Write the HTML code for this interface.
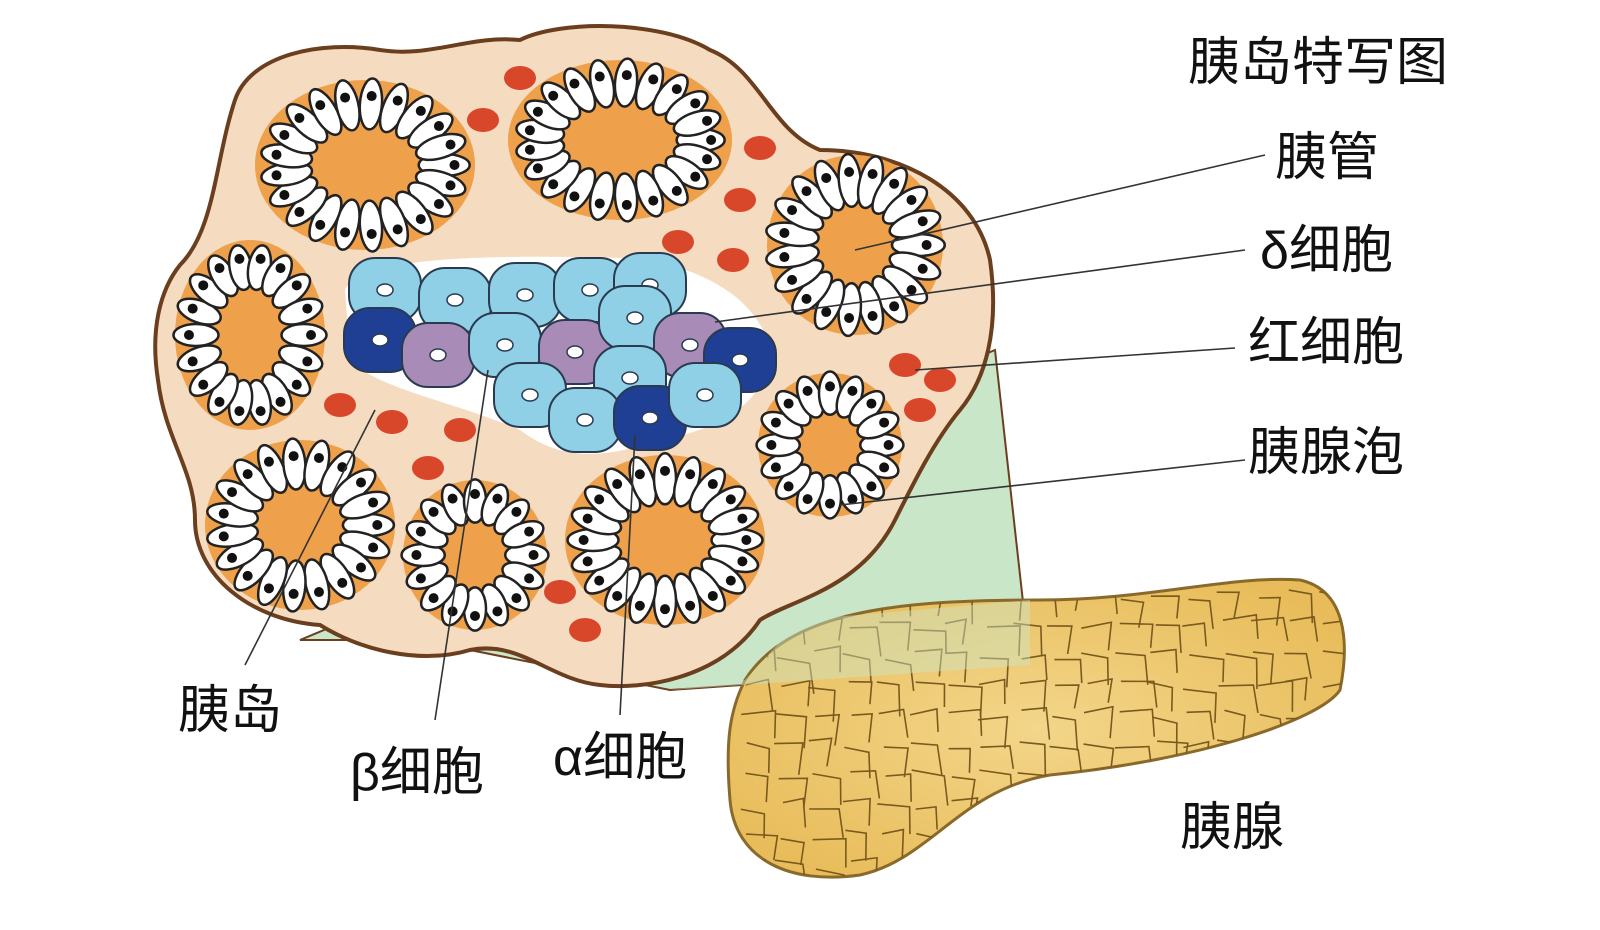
<!DOCTYPE html>
<html><head><meta charset="utf-8"><style>
html,body{margin:0;padding:0;background:#fff;width:1600px;height:930px;overflow:hidden}
text{font-family:"Liberation Sans","Noto Sans CJK SC",sans-serif;fill:#111}
</style></head><body>
<svg id="s" width="1600" height="930" viewBox="0 0 1600 930" xmlns="http://www.w3.org/2000/svg">
<defs>
<radialGradient id="pg" cx="0.5" cy="0.5" r="0.6"><stop offset="0" stop-color="#f3d68a"/><stop offset="1" stop-color="#e8bc5a"/></radialGradient>
</defs>
<polygon points="300,640 995,350 1030,665 670,690 420,640" fill="#c9e6c9" stroke="#6b3e1e" stroke-width="2"/>
<path id="panc" d="M745,680 C790,610 900,600 1040,600 C1150,600 1230,575 1300,580 C1345,590 1350,640 1340,690 C1320,720 1200,760 1050,775 C960,790 930,860 860,875 C790,885 735,860 730,800 C725,740 730,710 745,680Z" fill="url(#pg)" stroke="#8a6a2a" stroke-width="3"/>
<g id="cracks" stroke="#7a5a1e" stroke-width="1.6" fill="none"></g>
<polygon points="745,680 800,620 1030,600 1030,665 670,690" fill="#c9e6c9" opacity="0.45"/>
<path d="M235,100 C250,55 320,40 380,50 C430,58 470,35 520,40 C560,20 660,20 710,50 C760,70 770,130 820,150 C900,150 975,190 990,260 C1000,330 985,380 960,410 C935,440 915,480 895,520 C860,590 790,600 760,620 C720,680 640,690 600,685 C550,680 520,640 470,650 C420,665 360,650 320,625 C250,620 195,575 195,520 C195,470 165,440 158,380 C150,330 160,290 180,265 C215,230 215,160 235,100Z" fill="#f5dcc0" stroke="#6b3e1e" stroke-width="4"/>
<g id="acini"></g>
<g id="rbc" fill="#d9472b"></g>
<g id="islet" stroke="#2a3a50" stroke-width="2.5"></g>
<g stroke="#333" stroke-width="1.6">
<line x1="1265" y1="155" x2="855" y2="250"/>
<line x1="1245" y1="250" x2="715" y2="322"/>
<line x1="1235" y1="348" x2="915" y2="370"/>
<line x1="1245" y1="460" x2="840" y2="505"/>
<line x1="245" y1="665" x2="375" y2="410"/>
<line x1="435" y1="720" x2="488" y2="370"/>
<line x1="620" y1="715" x2="635" y2="435"/>
</g>
<g font-size="52">
<text x="1188" y="80">胰岛特写图</text>
<text x="1275" y="175">胰管</text>
<text x="1260" y="268">δ细胞</text>
<text x="1248" y="360">红细胞</text>
<text x="1248" y="470">胰腺泡</text>
<text x="178" y="728">胰岛</text>
<text x="350" y="790">β细胞</text>
<text x="553" y="775">α细胞</text>
<text x="1180" y="845">胰腺</text>
</g>
</svg>
<script>
var NS="http://www.w3.org/2000/svg";
function el(p,t,a){var e=document.createElementNS(NS,t);for(var k in a)e.setAttribute(k,a[k]);p.appendChild(e);return e;}
var A=document.getElementById("acini");
var ac=[[365,165,110,85],[620,140,112,80],[855,245,88,90],[250,335,75,95],[300,525,95,85],[475,555,72,75],[665,540,100,85],[830,445,72,72]];
ac.forEach(function(c){
 var g=el(A,"g",{});
 el(g,"ellipse",{cx:c[0],cy:c[1],rx:c[2],ry:c[3],fill:"#eea04a"});
 var m=Math.min(c[2],c[3]);
 var per=2*Math.PI*0.72*(c[2]+c[3])/2;
 var n=Math.round(per/21);
 for(var i=0;i<n;i++){var a=i/n*2*Math.PI;
  var rx=c[2]*0.72,ry=c[3]*0.72;
  var x=c[0]+Math.cos(a)*rx,y=c[1]+Math.sin(a)*ry;
  var deg=a*180/Math.PI;
  el(g,"ellipse",{cx:x,cy:y,rx:m*0.3,ry:11,fill:"#fff",stroke:"#222","stroke-width":2.5,transform:"rotate("+deg+" "+x+" "+y+")"});
  var x2=c[0]+Math.cos(a)*rx*1.13,y2=c[1]+Math.sin(a)*ry*1.13;
  el(g,"circle",{cx:x2,cy:y2,r:5,fill:"#111"});
 }
});
var R=document.getElementById("rbc");
[[520,78],[483,120],[760,148],[740,200],[678,242],[733,260],[340,405],[392,422],[460,430],[428,468],[560,592],[585,630],[905,365],[940,380],[920,410]].forEach(function(p){
 el(R,"ellipse",{cx:p[0],cy:p[1],rx:16,ry:12});});
var I=document.getElementById("islet");
el(I,"path",{d:"M345,290 C360,255 500,255 620,258 C700,262 760,300 770,350 C770,400 720,430 660,440 C600,460 560,460 520,430 C450,400 380,390 350,360Z",fill:"#fff",stroke:"none"});
var cells=[[385,290,"#8fd0e6"],[455,300,"#8fd0e6"],[525,295,"#8fd0e6"],[590,290,"#8fd0e6"],[650,285,"#8fd0e6"],[380,340,"#1f3f94"],[438,355,"#a98bb8"],[505,345,"#8fd0e6"],[575,352,"#a98bb8"],[635,318,"#8fd0e6"],[690,345,"#a98bb8"],[740,360,"#1f3f94"],[530,395,"#8fd0e6"],[630,378,"#8fd0e6"],[585,420,"#8fd0e6"],[650,418,"#1f3f94"],[705,395,"#8fd0e6"]];
cells.forEach(function(c){
 el(I,"rect",{x:c[0]-36,y:c[1]-32,width:72,height:64,rx:26,fill:c[2],"stroke-width":2});
 el(I,"ellipse",{cx:c[0],cy:c[1],rx:8,ry:6,fill:"#fff","stroke-width":1.5});
});
var C=document.getElementById("cracks");
var s=7;function rnd(){s=(s*9301+49297)%233280;return s/233280;}
for(var x=740;x<1340;x+=34){for(var y=590;y<870;y+=30){
 var d="M"+(x+rnd()*10)+","+(y+rnd()*10)+" l"+(20+rnd()*15)+","+(rnd()*12-6)+" l"+(rnd()*10-5)+","+(22+rnd()*10);
 el(C,"path",{d:d});
}}
var clip=el(document.querySelector("defs"),"clipPath",{id:"pc"});
el(clip,"path",{d:document.getElementById("panc").getAttribute("d")});
C.setAttribute("clip-path","url(#pc)");
</script>
</body></html>
